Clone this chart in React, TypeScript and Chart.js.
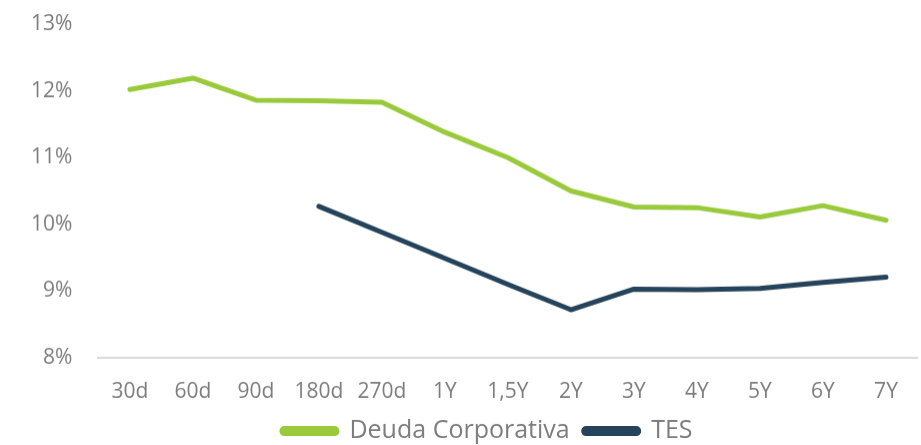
import React, { useEffect, useRef } from "react";
import { Chart, registerables } from "chart.js";

Chart.register(...registerables);

const categories = ["30d", "60d", "90d", "180d", "270d", "1Y", "1,5Y", "2Y", "3Y", "4Y", "5Y", "6Y", "7Y"];
const deudaCorporativa = [12.02, 12.19, 11.86, 11.85, 11.83, 11.38, 11.0, 10.5, 10.26, 10.25, 10.11, 10.28, 10.06];
const tes = [null, null, null, 10.27, 9.88, 9.49, 9.1, 8.72, 9.03, 9.02, 9.04, 9.13, 9.21];
const yTicks = [8, 9, 10, 11, 12, 13];

const FONT = "'Open Sans', 'DejaVu Sans', sans-serif";
const GRAY = "#7d7d7d";

const legendShift = {
  id: "legendShift",
  afterLayout(chart: any) {
    const lg = chart.legend;
    if (lg) {
      lg.left += 13;
      lg.right += 13;
    }
  },
};

export default function App() {
  const ref = useRef<HTMLCanvasElement | null>(null);

  useEffect(() => {
    if (!ref.current) return;
    const chart = new Chart(ref.current, {
      type: "line",
      data: {
        labels: categories,
        datasets: [
          {
            label: "Deuda Corporativa",
            data: deudaCorporativa,
            borderColor: "#9aca3c",
            backgroundColor: "#9aca3c",
            borderWidth: 5,
            pointRadius: 0,
            tension: 0,
            borderCapStyle: "round",
            borderJoinStyle: "round",
          },
          {
            label: "TES",
            data: tes,
            borderColor: "#25435a",
            backgroundColor: "#25435a",
            borderWidth: 5,
            pointRadius: 0,
            tension: 0,
            borderCapStyle: "round",
            borderJoinStyle: "round",
          },
        ],
      },
      plugins: [legendShift],
      options: {
        animation: false,
        responsive: true,
        maintainAspectRatio: false,
        layout: { padding: { left: 31, right: 3.5, top: 24, bottom: 0 } },
        plugins: {
          tooltip: { enabled: false },
          legend: {
            position: "bottom",
            labels: {
              font: { family: FONT, size: 25 },
              color: GRAY,
              boxWidth: 55,
              boxHeight: 5,
              useBorderRadius: true,
              borderRadius: 2.5,
              padding: 14,
            },
          },
        },
        scales: {
          x: {
            offset: true,
            grid: { display: false, drawTicks: true, tickLength: 21.4 },
            border: { display: true, color: "#d9d9d9", width: 2 },
            ticks: { font: { family: FONT, size: 21 }, color: GRAY, padding: 0 },
          },
          y: {
            min: 8,
            max: 13,
            afterBuildTicks: (axis: any) => {
              axis.ticks = yTicks.map((v) => ({ value: v }));
            },
            grid: { display: false, drawTicks: true, tickLength: 26 },
            border: { display: false },
            ticks: {
              font: { family: FONT, size: 21 },
              color: GRAY,
              padding: 0,
              callback: (v: any) => `${v}%`,
            },
          },
        },
      },
    });
    return () => chart.destroy();
  }, []);

  return (
    <div style={{ position: "absolute", left: 0, top: 0, width: 921, height: 452.6 }}>
      <canvas ref={ref} />
    </div>
  );
}
